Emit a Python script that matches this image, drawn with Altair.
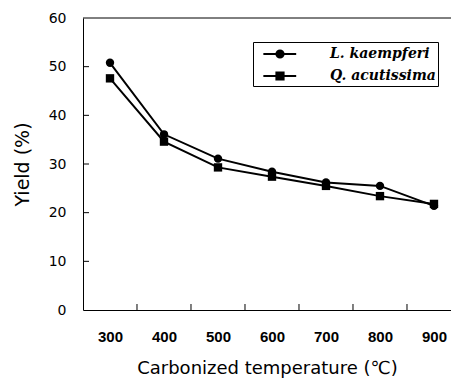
import altair as alt
import pandas as pd

temps = [300, 400, 500, 600, 700, 800, 900]
series_names = ["L. kaempferi", "Q. acutissima"]
yield_L = [50.8, 36.1, 31.1, 28.4, 26.2, 25.5, 21.4]
yield_Q = [47.6, 34.6, 29.3, 27.4, 25.5, 23.4, 21.8]
x_ticks = [300, 400, 500, 600, 700, 800, 900]
x_bounds = [350, 450, 550, 650, 750, 850]
y_ticks = [0, 10, 20, 30, 40, 50, 60]
y_inner_ticks = [10, 20, 30, 40, 50]

rows = []
for t, v in zip(temps, yield_L):
    rows.append({"temp": t, "yield": v, "species": series_names[0]})
for t, v in zip(temps, yield_Q):
    rows.append({"temp": t, "yield": v, "species": series_names[1]})
df = pd.DataFrame(rows)

W, H = 368, 292
xdom = [250, 931.5]
ydom = [0, 60]
TICK_PX = 6

xs = alt.Scale(domain=xdom, nice=False, zero=False)
ys = alt.Scale(domain=ydom, nice=False)

# tick length converted to data units so the ticks follow the scales
tick_dy = TICK_PX * (ydom[1] - ydom[0]) / H
tick_dx = TICK_PX * (xdom[1] - xdom[0]) / W


def circ(r):
    return f"M{r},0A{r},{r},0,1,1,{-r},0A{r},{r},0,1,1,{r},0Z"


def sq(h):
    return f"M{-h},{-h}H{h}V{h}H{-h}Z"


stub = "M-1.85,0H1.8"
circle_path = stub + circ(0.4) + circ(0.2) + circ(0.03)
square_path = stub + sq(0.4) + sq(0.2) + sq(0.03)

base = alt.Chart(df)

xtick_df = pd.DataFrame({"b": x_bounds, "y0": [ydom[0]] * len(x_bounds),
                         "y1": [ydom[0] + tick_dy] * len(x_bounds)})
ytick_df = pd.DataFrame({"v": y_inner_ticks, "x0": [xdom[0]] * len(y_inner_ticks),
                         "x1": [xdom[0] + tick_dx] * len(y_inner_ticks)})
top_df = pd.DataFrame({"v": [ydom[1]], "x0": [xdom[0]], "x1": [xdom[1]]})

xtick_layer = alt.Chart(xtick_df).mark_rule(color="black", strokeWidth=1).encode(
    x=alt.X("b:Q", scale=xs),
    y=alt.Y("y0:Q", scale=ys),
    y2="y1:Q",
)

ytick_layer = alt.Chart(ytick_df).mark_rule(color="black", strokeWidth=1).encode(
    y=alt.Y("v:Q", scale=ys),
    x=alt.X("x0:Q", scale=xs),
    x2="x1:Q",
)

top_border = alt.Chart(top_df).mark_rule(color="black", strokeWidth=1).encode(
    y=alt.Y("v:Q", scale=ys),
    x=alt.X("x0:Q", scale=xs),
    x2="x1:Q",
)

lines = base.mark_line(color="black", strokeWidth=2).encode(
    x=alt.X("temp:Q", scale=xs,
            axis=alt.Axis(values=x_ticks, ticks=False, grid=False, domainColor="black",
                          labelFont="Liberation Sans", labelFontSize=15, labelFontWeight="bold",
                          labelColor="black", labelPadding=19,
                          title="Carbonized temperature  (℃)", titleFont="DejaVu Sans",
                          titleFontSize=18, titleFontWeight="normal", titleColor="black",
                          titlePadding=15)),
    y=alt.Y("yield:Q", scale=ys,
            axis=alt.Axis(values=y_ticks, ticks=False, grid=False, domainColor="black",
                          labelFont="DejaVu Sans", labelFontSize=14, labelColor="black",
                          labelPadding=17, title="Yield (%)", titleFont="DejaVu Sans",
                          titleFontSize=19, titleFontWeight="normal", titleColor="black",
                          titlePadding=16)),
    detail="species:N",
)

points = base.mark_point(filled=True, color="black", opacity=1, size=70).encode(
    x=alt.X("temp:Q", scale=xs),
    y=alt.Y("yield:Q", scale=ys),
    shape=alt.Shape("species:N",
                    scale=alt.Scale(domain=series_names, range=["circle", "square"]),
                    legend=None),
)

legend_layer = base.mark_point(filled=False, stroke="black", strokeWidth=2, opacity=0).encode(
    x=alt.X("temp:Q", scale=xs),
    y=alt.Y("yield:Q", scale=ys),
    shape=alt.Shape("species:N",
                    scale=alt.Scale(domain=series_names, range=[circle_path, square_path]),
                    legend=alt.Legend(
                        title=None, orient="none", legendX=170, legendY=24,
                        strokeColor="black", padding=2, symbolSize=324, rowPadding=4,
                        symbolOffset=15, symbolStrokeColor="black",
                        symbolStrokeWidth=2, symbolOpacity=1,
                        labelFont="DejaVu Serif", labelFontStyle="italic",
                        labelFontWeight="bold", labelFontSize=14, labelColor="black",
                        labelOffset=40, labelLimit=200,
                    )),
)

chart = alt.layer(lines, points, xtick_layer, ytick_layer, top_border, legend_layer).resolve_scale(
    shape="independent"
).resolve_legend(shape="independent").properties(
    width=W, height=H,
    background="white",
    autosize=alt.AutoSizeParams(type="none"),
    padding={"left": 75, "top": 10, "right": 0, "bottom": 70},
).configure_view(stroke=None)

chart.save("out.html", embed_options={"renderer": "svg", "actions": False})
